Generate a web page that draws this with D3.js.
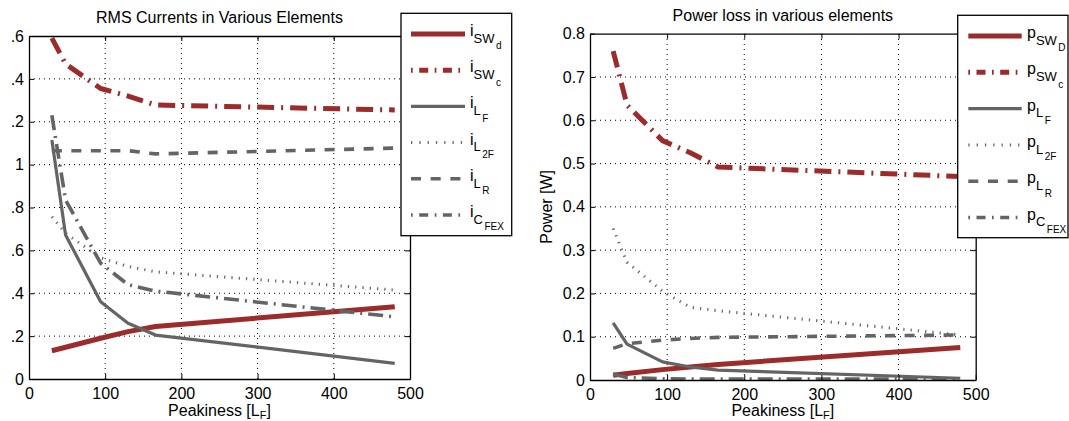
<!DOCTYPE html>
<html>
<head>
<meta charset="utf-8">
<script src="https://cdn.jsdelivr.net/npm/d3@7"></script>
<style>
  body { margin: 0; background: #fff; }
  svg { display: block; font-family: "Liberation Sans", Arial, Helvetica, sans-serif; }
</style>
</head>
<body>
<svg id="fig" width="1069" height="421"></svg>
<script>
// Peakiness of the filter inductance (x axis, both panels)
const peakiness = [30, 48, 94, 130, 166, 480];

// RMS currents [A]
const iSWd  = [0.132, 0.148, 0.190, 0.221, 0.245, 0.337];
const iSWc  = [1.590, 1.470, 1.355, 1.320, 1.278, 1.255];
const iLF   = [1.115, 0.672, 0.360, 0.260, 0.205, 0.073];
const iL2F  = [0.757, 0.680, 0.565, 0.525, 0.500, 0.415];
const iLR   = [1.065, 1.065, 1.065, 1.065, 1.050, 1.077];
const iCFEX = [1.230, 0.835, 0.540, 0.440, 0.410, 0.290];

// Power losses [W]
const pSWd  = [0.011, 0.015, 0.024, 0.030, 0.036, 0.075];
const pSWc  = [0.760, 0.635, 0.553, 0.525, 0.492, 0.470];
const pLF   = [0.132, 0.083, 0.042, 0.030, 0.023, 0.004];
const pL2F  = [0.350, 0.272, 0.205, 0.168, 0.160, 0.104];
const pLR   = [0.073, 0.084, 0.092, 0.096, 0.0985, 0.104];
const pCFEX = [0.014, 0.006, 0.003, 0.002, 0.002, 0.002];

// Tick values
const xTicks = [0, 100, 200, 300, 400, 500];
const currentTicks = [0, 0.2, 0.4, 0.6, 0.8, 1, 1.2, 1.4, 1.6];
const powerTicks = [0, 0.1, 0.2, 0.3, 0.4, 0.5, 0.6, 0.7, 0.8];

// Legend entries: [symbol, subscript, second-level subscript]
const currentLabels = [["i","SW","d"], ["i","SW","c"], ["i","L","F"], ["i","L","2F"], ["i","L","R"], ["i","C","FEX"]];
const powerLabels   = [["p","SW","D"], ["p","SW","c"], ["p","L","F"], ["p","L","2F"], ["p","L","R"], ["p","C","FEX"]];

const RED = "#9c2b2b";
const GREY = "#646464";

// Line styles, in legend order
const styles = [
  { color: RED,       width: 5,   dash: null,        legendDash: null },
  { color: RED,       width: 5,   dash: "17,7,2,7",  legendDash: "1.7,6.5,9,6.5" },
  { color: GREY,      width: 3.2, dash: null,        legendDash: null },
  { color: "#6c6c6c", width: 3,   dash: "1.3,6",     legendDash: "1.3,7" },
  { color: GREY,      width: 3.6, dash: "10,9.5",    legendDash: "10,9.7" },
  { color: GREY,      width: 3.6, dash: "15,6,2,6",  legendDash: "1.7,6.5,9,6.5" }
];

const svg = d3.select("#fig");
const fmt = v => String(+v.toFixed(2));

function styleAxis(sel) {
  sel.select(".domain").attr("stroke", "#000").attr("stroke-width", 1.3);
  sel.selectAll(".tick line").attr("stroke", "#000").attr("stroke-width", 1);
  sel.selectAll(".tick text").attr("fill", "#000").attr("font-size", 16)
     .attr("font-family", "Liberation Sans, Arial, Helvetica, sans-serif");
  sel.attr("font-family", null).attr("font-size", null);
}

function panel(o) {
  const x = d3.scaleLinear().domain([0, 500]).range([o.x0, o.x1]);
  const y = d3.scaleLinear().domain([0, o.yTicks[o.yTicks.length - 1]]).range([o.y1, o.y0]);
  const g = svg.append("g");

  // dotted grid
  const grid = g.append("g").attr("stroke", "#000").attr("stroke-width", 1)
    .attr("stroke-dasharray", "1,4").attr("fill", "none");
  grid.selectAll("line.v").data(xTicks.slice(1, -1)).join("line").attr("class", "v")
    .attr("x1", d => x(d)).attr("x2", d => x(d)).attr("y1", o.y1).attr("y2", o.y0);
  grid.selectAll("line.h").data(o.yTicks.slice(1, -1)).join("line").attr("class", "h")
    .attr("x1", o.x0).attr("x2", o.x1).attr("y1", d => y(d)).attr("y2", d => y(d));

  // data series
  const line = d3.line().x((d, i) => x(peakiness[i])).y(d => y(d));
  o.series.forEach((vals, k) => {
    const s = styles[k];
    g.append("path").datum(vals).attr("d", line)
      .attr("fill", "none").attr("stroke", s.color).attr("stroke-width", s.width)
      .attr("stroke-linejoin", "round").attr("stroke-linecap", "butt")
      .attr("stroke-dasharray", s.dash);
  });

  // box axes with inward ticks
  g.append("g").attr("transform", `translate(0,${o.y1})`)
    .call(d3.axisBottom(x).tickValues(xTicks).tickSize(-5).tickSizeOuter(0).tickPadding(9).tickFormat(d3.format("d")))
    .call(styleAxis);
  g.append("g").attr("transform", `translate(0,${o.y0})`)
    .call(d3.axisTop(x).tickValues(xTicks).tickSize(-5).tickSizeOuter(0).tickFormat(""))
    .call(styleAxis);
  g.append("g").attr("transform", `translate(${o.x1},0)`)
    .call(d3.axisRight(y).tickValues(o.yTicks).tickSize(-5).tickSizeOuter(0).tickFormat(""))
    .call(styleAxis);
  const leftHolder = g.append("g");
  if (o.clipLeft != null) {
    svg.append("defs").append("clipPath").attr("id", "figEdge")
      .append("rect").attr("x", o.clipLeft).attr("y", 0).attr("width", 1069).attr("height", 421);
    leftHolder.attr("clip-path", "url(#figEdge)");
  }
  leftHolder.append("g").attr("transform", `translate(${o.x0},0)`)
    .call(d3.axisLeft(y).tickValues(o.yTicks).tickSize(-5).tickSizeOuter(0).tickPadding(5).tickFormat(fmt))
    .call(styleAxis);

  // title
  g.append("text").attr("x", (o.x0 + o.x1) / 2).attr("y", o.titleY)
    .attr("text-anchor", "middle").attr("font-size", 16).text(o.title);

  // x label with subscript
  const xl = g.append("text").attr("x", (o.x0 + o.x1) / 2).attr("y", o.xLabelY)
    .attr("text-anchor", "middle").attr("font-size", 16);
  xl.append("tspan").text("Peakiness [L");
  xl.append("tspan").attr("font-size", 11).attr("dy", 3).text("F");
  xl.append("tspan").attr("dy", -3).text("]");

  if (o.yLabel) {
    g.append("text").attr("transform", `translate(${o.yLabelX},${(o.y0 + o.y1) / 2}) rotate(-90)`)
      .attr("text-anchor", "middle").attr("font-size", 16).text(o.yLabel);
  }

  // legend
  const L = o.legend;
  g.append("rect").attr("x", L.x).attr("y", L.y).attr("width", L.w).attr("height", L.h)
    .attr("fill", "#fff").attr("stroke", "#000").attr("stroke-width", 1.3);
  o.labels.forEach((lab, k) => {
    const s = styles[k];
    const ry = L.row0 + k * L.dy;
    g.append("line").attr("x1", L.s0).attr("x2", L.s1).attr("y1", ry).attr("y2", ry)
      .attr("stroke", s.color).attr("stroke-width", s.width)
      .attr("stroke-dasharray", s.legendDash);
    const t = g.append("text").attr("x", L.tx).attr("y", ry + 2);
    t.append("tspan").attr("font-size", 16).text(lab[0]);
    t.append("tspan").attr("font-size", 13).attr("dy", 6.7).text(lab[1]);
    t.append("tspan").attr("font-size", 10).attr("dx", 1.5).attr("dy", 6.6).text(lab[2]);
  });
}

panel({
  x0: 29, x1: 410, y0: 36, y1: 379,
  yTicks: currentTicks,
  series: [iSWd, iSWc, iLF, iL2F, iLR, iCFEX],
  labels: currentLabels,
  title: "RMS Currents in Various Elements", titleY: 23,
  xLabelY: 415.5,
  clipLeft: 12,
  legend: { x: 401, y: 13.3, w: 110.7, h: 222.4, row0: 34, dy: 36.2, s0: 411, s1: 465, tx: 470 }
});

panel({
  x0: 590, x1: 975.7, y0: 33.7, y1: 380,
  yTicks: powerTicks,
  series: [pSWd, pSWc, pLF, pL2F, pLR, pCFEX],
  labels: powerLabels,
  title: "Power loss in various elements", titleY: 20.7,
  xLabelY: 416,
  yLabel: "Power [W]", yLabelX: 552,
  legend: { x: 957.7, y: 15.3, w: 110.3, h: 222.4, row0: 36, dy: 36.3, s0: 968.3, s1: 1021.7, tx: 1027 }
});
</script>
</body>
</html>
